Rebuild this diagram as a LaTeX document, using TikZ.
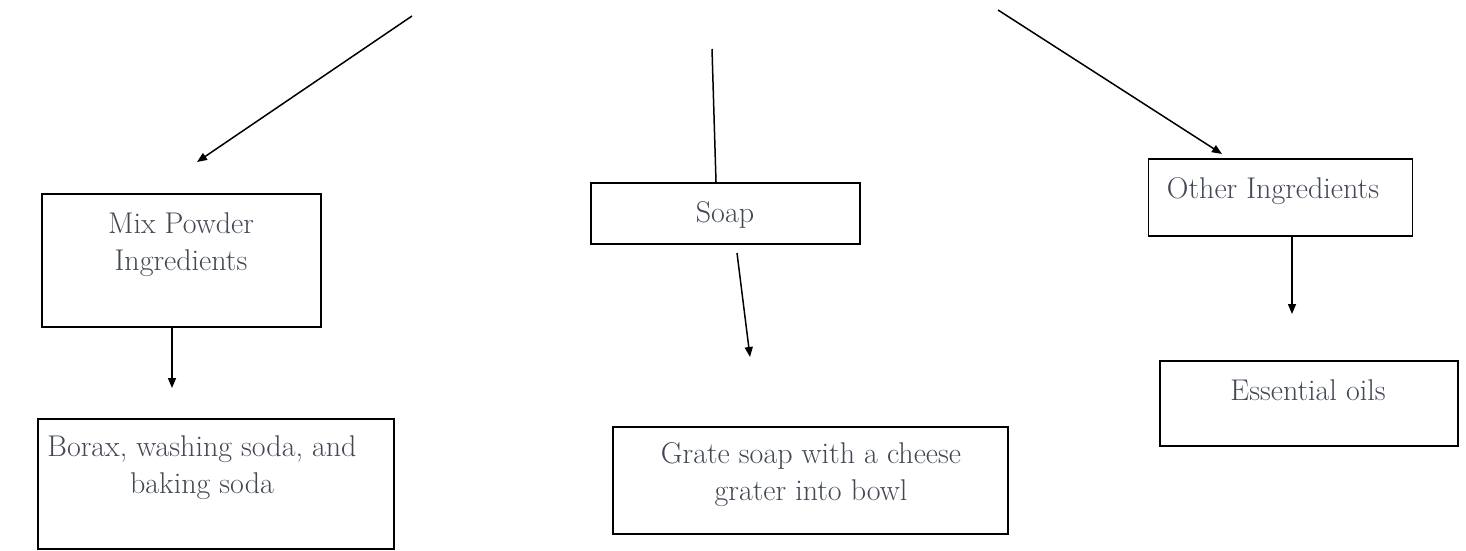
\documentclass[tikz,border=0pt]{standalone}
\usetikzlibrary{arrows.meta}
\definecolor{txtc}{RGB}{66,72,84}
\begin{document}
\begin{tikzpicture}[x=1pt,y=-1pt,
  boxs/.style={draw=black,line width=1.8pt,inner sep=0pt,minimum width=#1},
  lbl/.style={text=txtc,font=\fontsize{30}{37}\selectfont,inner sep=0pt,align=center},
  conn/.style={line width=1.5pt,draw=black},
  arr/.style={conn,-{Triangle[length=10pt,width=8pt]}}]
\useasboundingbox[fill=white] (0,0) rectangle (1466,550);
% boxes
\node[boxs=279pt,minimum height=133pt] (mix)   at (181.5,260.5) {};
\node[boxs=356pt,minimum height=130pt] (borax) at (216,484) {};
\node[boxs=269pt,minimum height=61pt]  (soap)  at (725.5,213.5) {};
\node[boxs=395pt,minimum height=107pt] (grate) at (810.5,480.5) {};
\node[boxs=264pt,minimum height=77pt]  (other) at (1280.5,197.5) {};
\node[boxs=298pt,minimum height=85pt]  (oils)  at (1309,403.5) {};
% texts (base anchor = baseline of last line)
\node[lbl,anchor=base] (tmix) at (181,270) {Mix Powder\\Ingredients};
\node[lbl,anchor=base] (tborax) at (202,493) {Borax, washing soda, and\\baking soda};
\node[lbl,anchor=base] (tsoap) at (725,222) {Soap};
\node[lbl,anchor=base] (tgrate) at (811,500) {Grate soap with a cheese\\grater into bowl};
\node[lbl,anchor=base] (tother) at (1273,198) {Other Ingredients};
\node[lbl,anchor=base] (toils) at (1308,400) {Essential oils};
% free ends
\coordinate (s1) at (412,16);
\coordinate (e1) at (197,162);
\coordinate (s2) at (712,49);
\coordinate (s3) at (998,10);
\coordinate (e3) at (1222,154);
\coordinate (m1) at (172,327);
\coordinate (m2) at (172,388);
\coordinate (p1) at (737,253);
\coordinate (p2) at (750,357);
\coordinate (o1) at (1292,236);
\coordinate (o2) at (1292,314);
% connectors
\draw[arr] (s1) -- (e1);
\draw[conn] (s2) -- (soap.north -| 716,0);
\draw[arr] (s3) -- (e3);
\draw[arr] (m1) -- (m2);
\draw[arr] (p1) -- (p2);
\draw[arr] (o1) -- (o2);
\end{tikzpicture}
\end{document}
